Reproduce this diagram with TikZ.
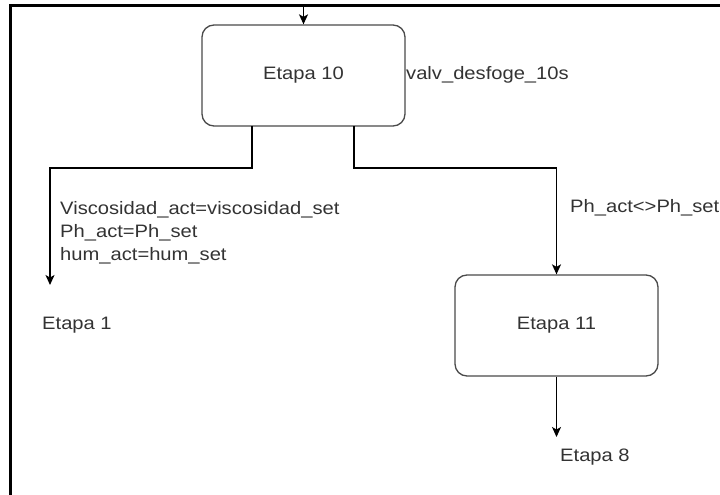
\documentclass[tikz,border=0pt]{standalone}
\usepackage{fontspec}
\setmainfont{Liberation Sans}[FakeStretch=1.12]
\usetikzlibrary{arrows.meta}
\definecolor{txt}{HTML}{333333}
\definecolor{edge}{HTML}{4A4A4A}
\begin{document}
\begin{tikzpicture}[x=1pt,y=-1pt,
  every node/.style={font=\fontsize{18}{23}\selectfont, text=txt, inner sep=0pt},
  stagebox/.style={draw=edge, line width=1.3pt, rounded corners=12pt,
    minimum width=203pt, minimum height=101pt, anchor=center},
  flow/.style={draw=black, line width=1.3pt,
    -{Stealth[length=10pt,width=9pt,inset=2.5pt]}},
  lbl/.style={anchor=base west, align=left}]
  \useasboundingbox (0,0) rectangle (720,495);
  % outer frame (top and left edges)
  \draw[line width=3pt, black] (720,6) -- (10.5,6) -- (10.5,495);

  % stages
  \node[stagebox] (e10) at (303.5,75.5) {Etapa 10};
  \node[stagebox] (e11) at (556.5,325.5) {Etapa 11};

  % entry into Etapa 10
  \coordinate (entry) at (303.5,7.5);
  \draw[flow] (entry) -- (e10.north);
  \node[lbl] (tmr) at (406,79) {valv\_desfoge\_10s};

  % branch to Etapa 1
  \coordinate (s1) at (252,126);
  \coordinate (t1) at (50,285);
  \draw[flow] (s1) |- (50,168) -- (t1);
  % multi-line label: base anchor sits on the last line
  \node[lbl] (c1) at (60,260) {Viscosidad\_act=viscosidad\_set\\Ph\_act=Ph\_set\\hum\_act=hum\_set};
  \node[lbl] (e1) at (42,329) {Etapa 1};

  % branch to Etapa 11
  \coordinate (s2) at (354,126);
  \draw[flow] (s2) |- (556.5,168) -- (e11.north);
  \node[lbl] (c2) at (570,212.5) {Ph\_act<>Ph\_set};

  % Etapa 11 to Etapa 8
  \coordinate (t8) at (556.5,437);
  \draw[flow] (e11.south) -- (t8);
  \node[lbl] (e8) at (560,461.5) {Etapa 8};
\end{tikzpicture}
\end{document}
